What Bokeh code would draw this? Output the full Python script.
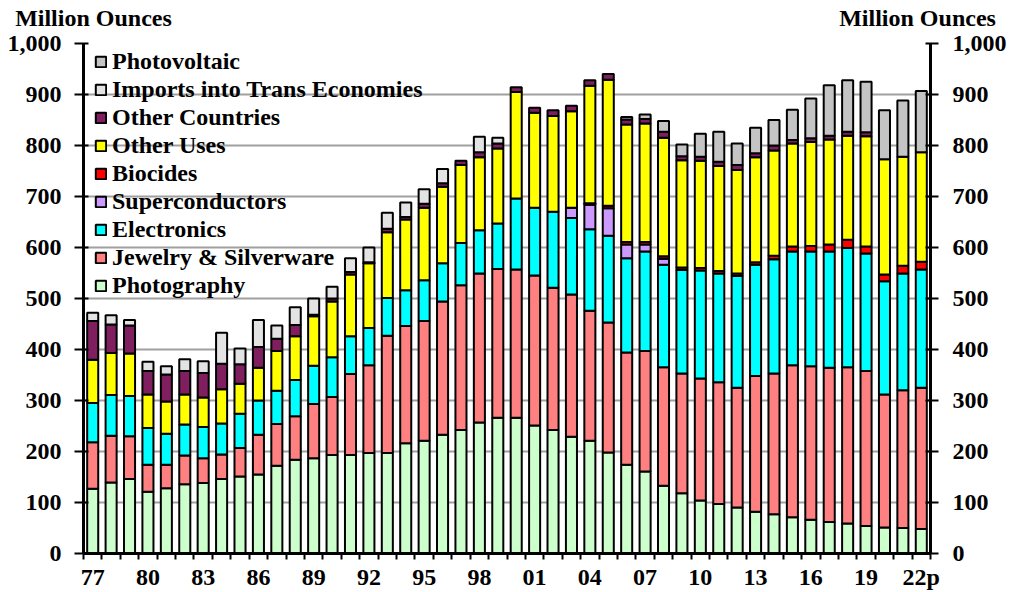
import numpy as np
from bokeh.plotting import figure
from bokeh.models import (ColumnDataSource, FixedTicker, SingleIntervalTicker, LinearAxis,
                          Range1d, Legend, LegendItem, NumeralTickFormatter)
from bokeh.embed import file_html
from bokeh.resources import INLINE

years = list(range(1977, 2023))
year_labels = [f"{y % 100:02d}" for y in years]
year_labels[-1] = "22p"
unit_title = "Million Ounces"

photography = [127, 139, 146, 121, 128, 136, 138, 146, 151, 155, 172, 184, 187, 193, 193, 197,
               197, 216, 221, 233, 242, 257, 266, 266, 251, 242, 229, 221, 198, 174, 161, 133,
               118, 104, 97, 90, 82, 77, 71, 66, 62, 59, 54, 51, 50, 48]
jewelry = [91, 92, 84, 53, 46, 56, 49, 48, 56, 78, 82, 85, 106, 114, 159, 172,
           230, 230, 235, 261, 284, 292, 292, 291, 294, 279, 279, 255, 255, 220, 236, 232,
           235, 239, 239, 235, 266, 276, 298, 301, 302, 306, 304, 261, 270, 277]
electronics = [77, 80, 79, 72, 61, 61, 61, 61, 67, 67, 65, 71, 75, 78, 74, 73,
               74, 70, 80, 75, 83, 85, 89, 139, 133, 149, 150, 160, 170, 185, 195, 201,
               203, 212, 213, 219, 218, 224, 223, 225, 228, 234, 230, 222, 229, 232]
superconductors = [0] * 26 + [20, 48, 54, 27, 14, 12] + [0] * 14
biocides = [0] * 27 + [3, 5, 5, 5, 5, 5, 5, 5, 5, 5, 7, 10, 11, 14, 16, 14, 13, 15, 15]
other_uses = [85, 82, 83, 66, 63, 59, 58, 67, 59, 64, 78, 86, 97, 109, 121, 127,
              129, 139, 142, 150, 153, 143, 147, 209, 186, 188, 189, 230, 247, 230, 232, 232,
              210, 210, 206, 203, 206, 206, 202, 204, 206, 204, 216, 226, 214, 215]
other_countries = [76, 56, 55, 46, 53, 46, 48, 50, 38, 41, 24, 22, 3, 6, 5, 2,
                   7, 5, 8, 7, 8, 10, 10, 9, 10, 11, 11, 11, 11, 10, 9, 12,
                   8, 8, 8, 10, 8, 10, 7, 7, 7, 8, 8, 0, 0, 0]
imports_trans = [16, 18, 11, 18, 16, 23, 23, 61, 31, 53, 26, 35, 32, 23, 27, 29,
                 31, 28, 28, 28, 0, 30, 11] + [0] * 23
photovoltaic = [0] * 29 + [5, 9, 21, 23, 45, 59, 42, 50, 50, 59, 78, 99, 101, 99, 96, 110, 120]

series = [
    ("Photography", photography, "#CCFFCC"),
    ("Jewelry & Silverware", jewelry, "#FF8080"),
    ("Electronics", electronics, "#00FFFF"),
    ("Superconductors", superconductors, "#CC99FF"),
    ("Biocides", biocides, "#FF0000"),
    ("Other Uses", other_uses, "#FFFF00"),
    ("Other Countries", other_countries, "#7F1F5F"),
    ("Imports into Trans Economies", imports_trans, "#E3E3E3"),
    ("Photovoltaic", photovoltaic, "#C4C4C4"),
]

FONT = "Liberation Serif"
FS = "24px"

n = len(years)
p = figure(width=1009, height=592, output_backend="svg", toolbar_location=None,
           x_range=Range1d(-0.5, n - 0.5), y_range=Range1d(0, 1000),
           min_border_left=83, min_border_right=77, min_border_top=43, min_border_bottom=39)
p.outline_line_color = None
p.background_fill_color = "white"
p.xgrid.visible = False
p.ygrid.ticker = SingleIntervalTicker(interval=100)
p.ygrid.grid_line_color = "#A0A0A0"
p.ygrid.grid_line_width = 2

x = np.arange(n)
bottom = np.zeros(n)
renderers = {}
for name, vals, color in series:
    v = np.array(vals, dtype=float)
    mask = v > 0
    src = ColumnDataSource(dict(x=x[mask], bottom=bottom[mask], top=(bottom + v)[mask]))
    r = p.vbar(x="x", bottom="bottom", top="top", width=0.6, source=src,
               fill_color=color, line_color="black", line_width=2)
    renderers[name] = r
    bottom = bottom + v

items = [LegendItem(label=name, renderers=[renderers[name]]) for name, _, _ in reversed(series)]
legend = Legend(items=items, location=(11, 254), margin=0, padding=0, spacing=1,
                label_text_font=FONT, label_text_font_style="bold", label_text_font_size=FS,
                label_text_color="black", glyph_width=13, glyph_height=13, label_height=20,
                label_standoff=5, background_fill_alpha=0, border_line_alpha=0)
p.add_layout(legend, "center")


def style_labels(ax):
    ax.major_label_text_font = FONT
    ax.major_label_text_font_style = "bold"
    ax.major_label_text_font_size = FS
    ax.major_label_text_color = "black"


# x axis
xa = p.xaxis[0]
xa.ticker = FixedTicker(ticks=list(range(0, n, 3)), minor_ticks=[i - 0.5 for i in range(n + 1)])
xa.major_label_overrides = {i: year_labels[i] for i in range(0, n, 3)}
xa.major_tick_in = 0
xa.major_tick_out = 0
xa.minor_tick_in = 0
xa.minor_tick_out = 6
xa.minor_tick_line_width = 2
xa.minor_tick_line_color = "black"
xa.axis_line_width = 3
xa.axis_line_color = "black"
xa.major_label_standoff = 4
style_labels(xa)

# left y axis
ya = p.yaxis[0]
ya.ticker = SingleIntervalTicker(interval=100)
ya.formatter = NumeralTickFormatter(format="0,0")
ya.major_tick_in = 5
ya.major_tick_out = 9
ya.major_tick_line_width = 2
ya.minor_tick_in = 0
ya.minor_tick_out = 0
ya.axis_line_width = 3
ya.major_label_standoff = 13
style_labels(ya)

# right y axis
ra = LinearAxis(ticker=SingleIntervalTicker(interval=100),
                formatter=NumeralTickFormatter(format="0,0"))
ra.major_tick_in = 5
ra.major_tick_out = 8
ra.major_tick_line_width = 2
ra.minor_tick_in = 0
ra.minor_tick_out = 0
ra.axis_line_width = 3
ra.major_label_standoff = 14
style_labels(ra)
p.add_layout(ra, "right")

# unit titles above both y axes (as labels of a hidden top axis in pixel units)
p.extra_x_ranges = {"px": Range1d(83, 932)}
ta = LinearAxis(x_range_name="px", ticker=FixedTicker(ticks=[93, 919], minor_ticks=[]))
ta.major_label_overrides = {93: unit_title, 919: unit_title}
ta.axis_line_color = None
ta.major_tick_line_color = None
ta.minor_tick_line_color = None
ta.major_tick_in = 0
ta.major_tick_out = 0
ta.minor_tick_in = 0
ta.minor_tick_out = 0
ta.major_label_standoff = 13
style_labels(ta)
p.add_layout(ta, "above")

open("out.html", "w").write(file_html(p, INLINE))
